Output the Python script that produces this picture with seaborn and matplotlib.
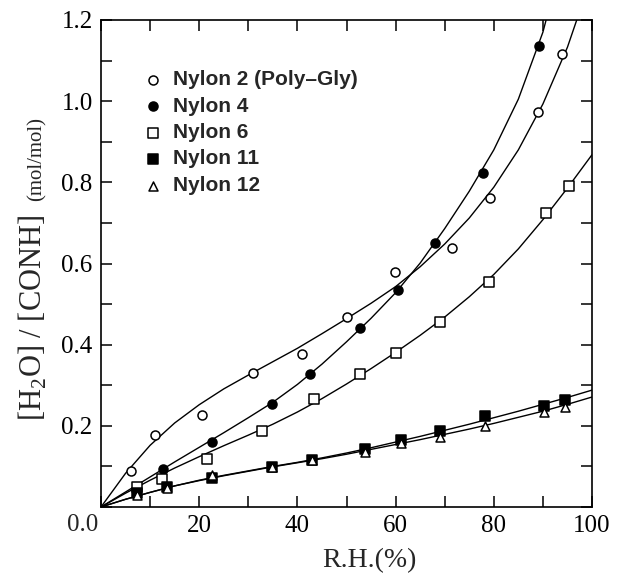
import matplotlib
matplotlib.use("Agg")
import matplotlib.pyplot as plt
from matplotlib.ticker import MultipleLocator, FixedLocator, FixedFormatter
import seaborn as sns

# measured points (R.H. %, [H2O]/[CONH])
rh_n2 = [6.1, 11.0, 20.6, 31.0, 41.0, 50.0, 59.9, 71.5, 79.2, 89.0, 93.9]
w_n2 = [0.088, 0.177, 0.227, 0.330, 0.377, 0.468, 0.579, 0.638, 0.761, 0.973, 1.116]

rh_n4 = [12.6, 22.6, 34.8, 42.6, 52.7, 60.5, 68.0, 77.8, 89.2]
w_n4 = [0.094, 0.160, 0.254, 0.328, 0.441, 0.535, 0.651, 0.823, 1.136]

rh_n6 = [7.3, 12.4, 21.6, 32.8, 43.4, 52.7, 60.0, 69.0, 79.0, 90.6, 95.3]
w_n6 = [0.049, 0.069, 0.118, 0.187, 0.266, 0.328, 0.379, 0.456, 0.554, 0.724, 0.791]

rh_n11 = [7.3, 13.4, 22.6, 34.8, 43.0, 53.8, 61.0, 69.0, 78.2, 90.2, 94.5]
w_n11 = [0.035, 0.050, 0.072, 0.099, 0.117, 0.142, 0.166, 0.188, 0.224, 0.250, 0.264]

rh_n12 = [7.3, 13.4, 22.6, 34.8, 43.0, 53.8, 61.0, 69.0, 78.2, 90.2, 94.5]
w_n12 = [0.030, 0.048, 0.080, 0.099, 0.115, 0.136, 0.158, 0.173, 0.200, 0.233, 0.247]

# fitted curves
rh_fit = [0, 5, 10, 15, 20, 25, 30, 35, 40, 45, 50, 55, 60, 65, 70, 75, 80, 85, 90, 95, 100]
fit_n2 = [0, 0.083, 0.152, 0.207, 0.252, 0.291, 0.325, 0.358, 0.391, 0.427, 0.464,
          0.502, 0.543, 0.592, 0.648, 0.712, 0.788, 0.880, 0.993, 1.133, 1.310]
fit_n4 = [0, 0.037, 0.074, 0.111, 0.147, 0.183, 0.220, 0.258, 0.302, 0.352, 0.407,
          0.465, 0.528, 0.601, 0.686, 0.778, 0.880, 1.005, 1.170, 1.400, 1.700]
fit_n6 = [0, 0.034, 0.066, 0.096, 0.124, 0.151, 0.177, 0.204, 0.234, 0.267, 0.303,
          0.341, 0.381, 0.423, 0.468, 0.518, 0.573, 0.636, 0.708, 0.786, 0.868]
fit_n11 = [0, 0.019, 0.036, 0.052, 0.066, 0.078, 0.089, 0.100, 0.110, 0.121, 0.133,
           0.146, 0.160, 0.174, 0.189, 0.204, 0.220, 0.236, 0.253, 0.270, 0.288]
fit_n12 = [0, 0.019, 0.036, 0.052, 0.065, 0.077, 0.088, 0.099, 0.109, 0.119, 0.130,
           0.142, 0.154, 0.166, 0.179, 0.192, 0.206, 0.221, 0.236, 0.253, 0.271]

labels = ["Nylon 2 (Poly\u2013Gly)", "Nylon 4", "Nylon 6", "Nylon 11", "Nylon 12"]

sns.set_style("ticks")
plt.rcParams["font.family"] = ["Liberation Serif", "DejaVu Serif"]
plt.rcParams["mathtext.fontset"] = "custom"
plt.rcParams["mathtext.rm"] = "Liberation Serif"

fig = plt.figure(figsize=(6.2, 5.76), dpi=100)
ax = fig.add_axes([101 / 620, 1 - 507 / 576, 491 / 620, 487 / 576])

# curves
for fit in [fit_n2, fit_n4, fit_n6, fit_n11, fit_n12]:
    sns.lineplot(x=rh_fit, y=fit, ax=ax, color="black", linewidth=1.0)

# points
series = [
    (rh_n2, w_n2, "o", "white"),
    (rh_n4, w_n4, "o", "black"),
    (rh_n6, w_n6, "s", "white"),
    (rh_n11, w_n11, "s", "black"),
    (rh_n12, w_n12, "^", "white"),
]
for (xs, ys, m, fc), lab in zip(series, labels):
    sns.scatterplot(x=xs, y=ys, ax=ax, marker=m, s=42, facecolor=fc,
                    edgecolor="black", linewidth=1.1, label=lab, zorder=3)

ax.set_xlim(0, 100)
ax.set_ylim(0, 1.2)

ax.xaxis.set_major_locator(FixedLocator([0, 20, 40, 60, 80, 100]))
ax.xaxis.set_major_formatter(FixedFormatter(["", "20", "40", "60", "80", "100"]))
ax.xaxis.set_minor_locator(MultipleLocator(10))
ax.yaxis.set_major_locator(FixedLocator([0, 0.2, 0.4, 0.6, 0.8, 1.0, 1.2]))
ax.yaxis.set_major_formatter(FixedFormatter(["", "0.2", "0.4", "0.6", "0.8", "1.0", "1.2"]))
ax.yaxis.set_minor_locator(MultipleLocator(0.1))
ax.tick_params(which="both", direction="in", top=True, right=True,
               length=8, width=1.1, labelsize=18, pad=6, colors="black")
for sp in ax.spines.values():
    sp.set_linewidth(1.2)
    sp.set_color("black")

fig.text(98 / 620, 1 - 525 / 576, "0.0", ha="right", va="center", fontsize=18)
fig.text(369 / 620, 1 - 561 / 576, "R.H.(%)", ha="center", va="center", fontsize=20)
fig.text(42 / 620, 1 - 421 / 576, "[H$_\\mathregular{2}$O] / [CONH]", rotation=90,
         rotation_mode="anchor", ha="left", va="baseline", fontsize=22)
fig.text(42 / 620, 1 - 201 / 576, "(mol/mol)", rotation=90,
         rotation_mode="anchor", ha="left", va="baseline", fontsize=15)

ax.legend(loc="upper left", bbox_to_anchor=(143 / 620, 1 - 70 / 576),
          bbox_transform=fig.transFigure, frameon=False, handlelength=1.0,
          handletextpad=0.45, labelspacing=0.36, borderaxespad=0, borderpad=0,
          prop={"family": "Liberation Sans", "weight": "bold", "size": 15})

fig.savefig("out.png", dpi=100)
